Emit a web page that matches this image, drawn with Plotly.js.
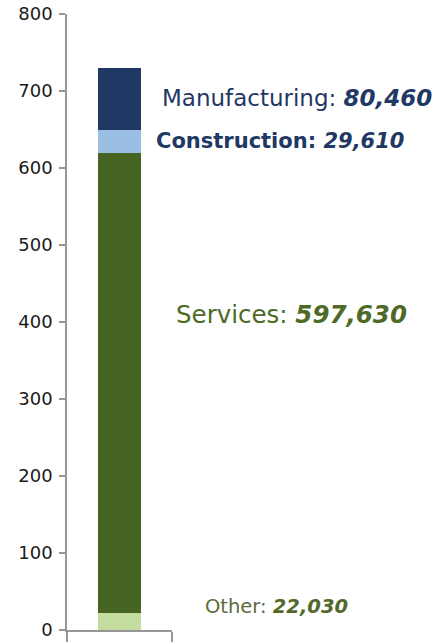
<!DOCTYPE html>
<html>
<head>
<meta charset="utf-8">
<script src="https://cdn.plot.ly/plotly-3.0.1.min.js"></script>
<style>html,body{margin:0;padding:0;background:#fff}#chart{width:441px;height:642px}</style>
</head>
<body>
<div id="chart"></div>
<script>
// Data (employment counts)
var sectors = ["Other", "Services", "Construction", "Manufacturing"];
var counts = [22030, 597630, 29610, 80460];
var colors = ["#c4dca0", "#476522", "#9bbfe3", "#203864"];
var yTicks = [0, 100, 200, 300, 400, 500, 600, 700, 800];

var category = ["Total"];
var traces = sectors.map(function (s, i) {
  return {
    type: "bar",
    name: s,
    x: category,
    y: [counts[i] / 1000],
    width: 0.41,
    marker: { color: colors[i], line: { width: 0 } },
    hoverinfo: "skip"
  };
});

function fmt(n) { return n.toLocaleString("en-US"); }

var labelStyle = [
  { i: 3, y: 691, size: 23, labCol: "#1f3864", numCol: "#1f3864", boldLab: false, x: 0.886 },
  { i: 2, y: 635, size: 21, labCol: "#1f3864", numCol: "#1f3864", boldLab: true, x: 0.831 },
  { i: 1, y: 410, size: 24.5, labCol: "#4e6a26", numCol: "#4e6a26", boldLab: false, x: 1.023 },
  { i: 0, y: 31, size: 19.5, labCol: "#5c6b3c", numCol: "#53692a", boldLab: false, x: 1.293 }
];

var annotations = labelStyle.map(function (a) {
  var lab = sectors[a.i] + ": ";
  if (a.boldLab) lab = "<b>" + lab + "</b>";
  return {
    xref: "paper", yref: "y",
    x: a.x, y: a.y,
    xanchor: "left", yanchor: "middle",
    showarrow: false,
    text: "<span style='color:" + a.labCol + "'>" + lab + "</span><span style='color:" + a.numCol + "'><b><i>" + fmt(counts[a.i]) + "</i></b></span>",
    font: { family: "DejaVu Sans", size: a.size, color: a.labCol }
  };
});

var layout = {
  width: 441, height: 642,
  margin: { l: 67, r: 269, t: 14, b: 12, pad: 0 },
  paper_bgcolor: "#ffffff",
  plot_bgcolor: "#ffffff",
  barmode: "stack",
  showlegend: false,
  font: { family: "DejaVu Sans", color: "#1a1a1a" },
  xaxis: {
    type: "category",
    range: [-0.5, 0.5],
    showline: true, linecolor: "#969696", linewidth: 1.8,
    ticks: "outside", tickson: "boundaries", ticklen: 14, tickcolor: "#969696", tickwidth: 1.8,
    showticklabels: false, showgrid: false, zeroline: false, fixedrange: true
  },
  yaxis: {
    range: [0, 800],
    tickvals: yTicks,
    ticktext: yTicks.map(String),
    showline: true, linecolor: "#969696", linewidth: 1.8,
    ticks: "outside", ticklen: 6, tickcolor: "#969696", tickwidth: 1.8,
    ticklabelstandoff: 3,
    tickfont: { family: "DejaVu Sans", size: 18, color: "#1a1a1a" },
    showgrid: false, zeroline: false, fixedrange: true
  },
  annotations: annotations
};

Plotly.newPlot("chart", traces, layout, { displayModeBar: false, staticPlot: true });
</script>
</body>
</html>
